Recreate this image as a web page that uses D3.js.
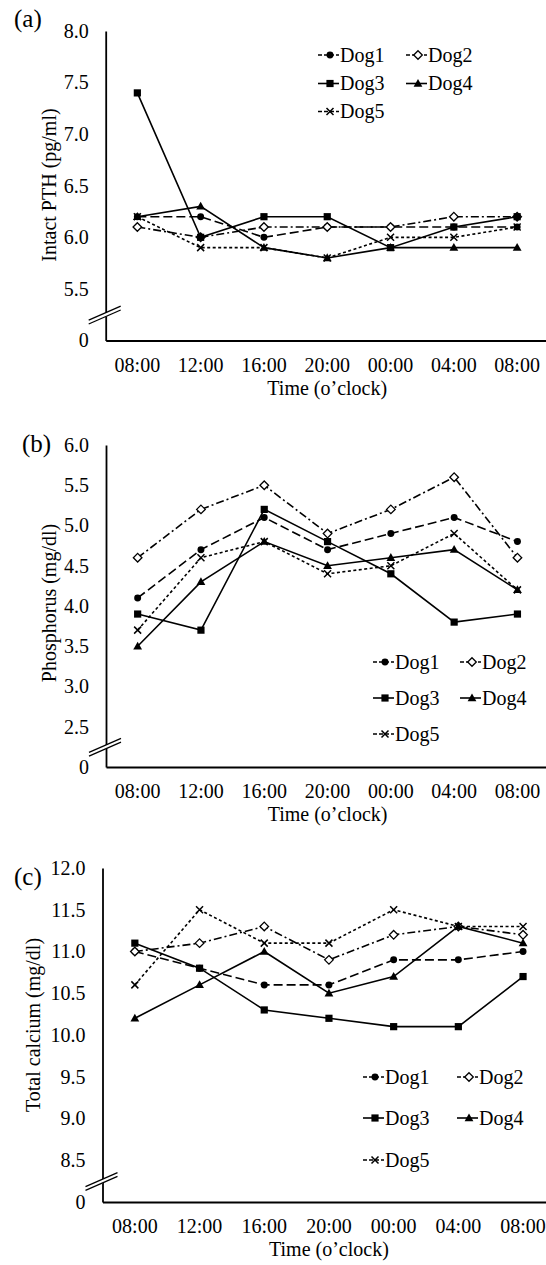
<!DOCTYPE html>
<html>
<head>
<meta charset="utf-8">
<script src="https://cdn.jsdelivr.net/npm/d3@7"></script>
<style>
  body { margin: 0; background: #fff; }
  svg text { font-family: "Liberation Serif", "Times New Roman", serif; fill: #000; }
</style>
</head>
<body>
<svg id="chart" width="546" height="1265"></svg>
<script>
// ---- data ----
const times = ["08:00", "12:00", "16:00", "20:00", "00:00", "04:00", "08:00"];
const dogs = ["Dog1", "Dog2", "Dog3", "Dog4", "Dog5"];

const pthTicks = [5.5, 6.0, 6.5, 7.0, 7.5, 8.0];
const phosTicks = [2.5, 3.0, 3.5, 4.0, 4.5, 5.0, 5.5, 6.0];
const calTicks = [8.5, 9.0, 9.5, 10.0, 10.5, 11.0, 11.5, 12.0];

// one row per dog, one value per time point
const pthValues = [
  [6.2, 6.2, 6.0, 6.1, 6.1, 6.1, 6.1],
  [6.1, 6.0, 6.1, 6.1, 6.1, 6.2, 6.2],
  [7.4, 6.0, 6.2, 6.2, 5.9, 6.1, 6.2],
  [6.2, 6.3, 5.9, 5.8, 5.9, 5.9, 5.9],
  [6.2, 5.9, 5.9, 5.8, 6.0, 6.0, 6.1]
];
const phosValues = [
  [4.1, 4.7, 5.1, 4.7, 4.9, 5.1, 4.8],
  [4.6, 5.2, 5.5, 4.9, 5.2, 5.6, 4.6],
  [3.9, 3.7, 5.2, 4.8, 4.4, 3.8, 3.9],
  [3.5, 4.3, 4.8, 4.5, 4.6, 4.7, 4.2],
  [3.7, 4.6, 4.8, 4.4, 4.5, 4.9, 4.2]
];
const calValues = [
  [11.0, 10.8, 10.6, 10.6, 10.9, 10.9, 11.0],
  [11.0, 11.1, 11.3, 10.9, 11.2, 11.3, 11.2],
  [11.1, 10.8, 10.3, 10.2, 10.1, 10.1, 10.7],
  [10.2, 10.6, 11.0, 10.5, 10.7, 11.3, 11.1],
  [10.6, 11.5, 11.1, 11.1, 11.5, 11.3, 11.3]
];

// ---- styles per dog ----
const dashes = ["9,4", "8,3,2,3", null, null, "3,2.5"];
const markers = ["circle", "diamond", "square", "triangle", "x"];

const svg = d3.select("#chart");

function markerPath(type) {
  switch (type) {
    case "circle": return d3.symbol(d3.symbolCircle, 38)();
    case "square": return "M-3.6,-3.6H3.6V3.6H-3.6Z";
    case "triangle": return "M0,-4.6L4.4,3.2H-4.4Z";
    case "diamond": return "M0,-4.3L4.3,0L0,4.3L-4.3,0Z";
    case "x": return "M-3.5,-3.5L3.5,3.5M-3.5,3.5L3.5,-3.5";
  }
}

function drawMarker(g, type, x, y) {
  const p = g.append("path")
    .attr("d", markerPath(type))
    .attr("transform", "translate(" + x + "," + y + ")");
  if (type === "diamond") p.attr("fill", "#fff").attr("stroke", "#000").attr("stroke-width", 1.3);
  else if (type === "x") p.attr("fill", "none").attr("stroke", "#000").attr("stroke-width", 1.5);
  else p.attr("fill", "#000");
}

function drawPanel(cfg) {
  const g = svg.append("g");

  const x = d3.scaleBand()
    .domain(d3.range(times.length))
    .range([cfg.axisX, cfg.axisX + cfg.step * times.length])
    .padding(0);

  const y = d3.scaleLinear()
    .domain([cfg.floor, cfg.ticks[cfg.ticks.length - 1]])
    .range([cfg.yBottom, cfg.yTop]);

  // y axis, the break floor is shown as "0"
  const yAxis = d3.axisLeft(y)
    .tickValues([cfg.floor].concat(cfg.ticks))
    .tickFormat(d => d === cfg.floor ? "0" : d.toFixed(1))
    .tickSize(0)
    .tickPadding(17);
  const ya = g.append("g")
    .attr("transform", "translate(" + cfg.axisX + ",0)")
    .call(yAxis);
  ya.selectAll("text").style("font-size", "20px").style("font-family", "Liberation Serif");
  ya.select(".domain").attr("stroke", "#000").attr("stroke-width", 1.8);

  const xAxis = d3.axisBottom(x)
    .tickFormat(i => times[i])
    .tickSize(0)
    .tickPadding(17);
  const xa = g.append("g")
    .attr("transform", "translate(0," + cfg.yBottom + ")")
    .call(xAxis);
  xa.selectAll("text").style("font-size", "20px").style("font-family", "Liberation Serif");
  xa.select(".domain").attr("stroke", "#000").attr("stroke-width", 1.8);

  // axis break
  const by = y(cfg.floor + 0.25);
  const bx = cfg.axisX - 1;
  g.append("path")
    .attr("d", "M" + (bx - 16) + "," + (by + 5.5) + "L" + (bx + 16) + "," + (by - 8.5) +
      "L" + (bx + 16) + "," + (by - 4.5) + "L" + (bx - 16) + "," + (by + 9.5) + "Z")
    .attr("fill", "#fff");
  [0, 3.8].forEach(o => {
    g.append("line")
      .attr("x1", bx - 16).attr("y1", by + 5.5 + o)
      .attr("x2", bx + 16).attr("y2", by - 8.5 + o)
      .attr("stroke", "#000").attr("stroke-width", 1.3);
  });

  // series
  const line = d3.line()
    .x((d, i) => x(i) + x.bandwidth() / 2)
    .y(d => y(d));

  cfg.values.forEach((vals, k) => {
    g.append("path")
      .datum(vals)
      .attr("d", line)
      .attr("fill", "none")
      .attr("stroke", "#000")
      .attr("stroke-width", 1.6)
      .attr("stroke-dasharray", dashes[k]);
    vals.forEach((v, i) => drawMarker(g, markers[k], x(i) + x.bandwidth() / 2, y(v)));
  });

  // legend
  dogs.forEach((name, k) => {
    const tx = cfg.legendX[k % 2];
    const ty = cfg.legendY[Math.floor(k / 2)];
    g.append("line")
      .attr("x1", tx - 22).attr("x2", tx - 1)
      .attr("y1", ty).attr("y2", ty)
      .attr("stroke", "#000").attr("stroke-width", 1.6)
      .attr("stroke-dasharray", dashes[k] ? "4,2" : null);
    drawMarker(g, markers[k], tx - 10, ty);
    g.append("text")
      .attr("x", tx).attr("y", ty).attr("dy", "0.33em")
      .style("font-size", "20px")
      .text(name);
  });

  // panel label and titles
  g.append("text")
    .attr("x", cfg.labelX).attr("y", cfg.labelY).attr("dy", "0.35em")
    .style("font-size", "25px")
    .text(cfg.label);

  g.append("text")
    .attr("transform", "translate(" + cfg.titleX + "," + cfg.titleY + ") rotate(-90)")
    .attr("text-anchor", "middle")
    .style("font-size", "20px")
    .text(cfg.title);

  const xr = x.range();
  g.append("text")
    .attr("x", (xr[0] + xr[1]) / 2).attr("y", cfg.yBottom + 54)
    .attr("text-anchor", "middle")
    .style("font-size", "20px")
    .text("Time (o\u2019clock)");
}

drawPanel({
  label: "(a)", labelX: 14, labelY: 18,
  title: "Intact PTH (pg/ml)", titleX: 56, titleY: 185,
  axisX: 105.7, step: 63.3, yTop: 31, yBottom: 340.5, floor: 5,
  ticks: pthTicks, values: pthValues,
  legendX: [340, 428], legendY: [55, 83.5, 111.5]
});

drawPanel({
  label: "(b)", labelX: 22, labelY: 443,
  title: "Phosphorus (mg/dl)", titleX: 56, titleY: 603,
  axisX: 106, step: 63.3, yTop: 445, yBottom: 767, floor: 2,
  ticks: phosTicks, values: phosValues,
  legendX: [395, 482], legendY: [662, 698, 734]
});

drawPanel({
  label: "(c)", labelX: 14, labelY: 876,
  title: "Total calcium (mg/dl)", titleX: 40, titleY: 1025,
  axisX: 102.5, step: 64.7, yTop: 868, yBottom: 1202, floor: 8,
  ticks: calTicks, values: calValues,
  legendX: [385, 479], legendY: [1077, 1118, 1160]
});
</script>
</body>
</html>
